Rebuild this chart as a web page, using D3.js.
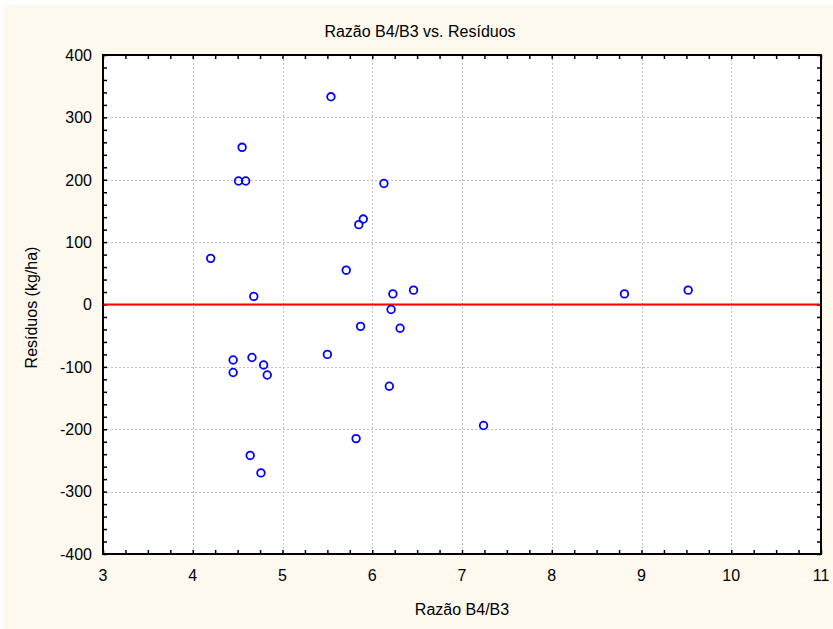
<!DOCTYPE html>
<html>
<head>
<meta charset="utf-8">
<script src="https://cdn.jsdelivr.net/npm/d3@7"></script>
<style>
  html, body { margin: 0; padding: 0; background: #ffffff; }
  svg { display: block; }
  text { font-family: "Liberation Sans", Arial, sans-serif; fill: #000; }
</style>
</head>
<body>
<svg id="chart" width="833" height="629"></svg>
<script>
// Ratio B4/B3 (x) and model residuals in kg/ha (y), one entry per observation
const ratioB4B3 = [5.54, 4.55, 4.51, 4.59, 4.20, 4.68, 4.45, 4.45, 4.66, 4.79, 4.83, 4.64, 4.76,
                   6.13, 5.90, 5.85, 5.71, 6.23, 6.46, 6.21, 5.87, 6.31, 5.50, 6.19, 5.82,
                   7.24, 8.81, 9.52];
const residuals = [333, 252, 198, 198, 74, 13, -89, -109, -85, -97, -113, -242, -270,
                   194, 137, 128, 55, 17, 23, -8, -35, -38, -80, -131, -215,
                   -194, 17, 23];

const xTicks = [3, 4, 5, 6, 7, 8, 9, 10, 11];
const yTicks = [-400, -300, -200, -100, 0, 100, 200, 300, 400];

const titleText = "Razão B4/B3 vs. Resíduos";
const xLabel = "Razão B4/B3";
const yLabel = "Resíduos (kg/ha)";

const svg = d3.select("#chart");
const W = 833, H = 629;
const plot = { left: 103, right: 821, top: 55, bottom: 554 };

// Cream page frame
svg.append("rect").attr("x", 4).attr("y", 5).attr("width", W - 4).attr("height", H - 5)
  .attr("fill", "#fdf9ee");

const x = d3.scaleLinear().domain([3, 11]).range([plot.left, plot.right]);
const y = d3.scaleLinear().domain([-400, 400]).range([plot.bottom, plot.top]);

// White plotting area
svg.append("rect").attr("x", plot.left).attr("y", plot.top)
  .attr("width", plot.right - plot.left).attr("height", plot.bottom - plot.top)
  .attr("fill", "#ffffff");

// Dotted grid at major ticks
const grid = svg.append("g").attr("stroke", "#c4c4c4").attr("stroke-width", 1)
  .attr("stroke-dasharray", "2,2").attr("shape-rendering", "crispEdges");
grid.selectAll("line.gx").data(xTicks.slice(1, -1)).join("line")
  .attr("x1", d => Math.round(x(d)) + 0.5).attr("x2", d => Math.round(x(d)) + 0.5)
  .attr("y1", plot.top).attr("y2", plot.bottom);
grid.selectAll("line.gy").data(yTicks.slice(1, -1)).join("line")
  .attr("y1", d => Math.round(y(d)) + 0.5).attr("y2", d => Math.round(y(d)) + 0.5)
  .attr("x1", plot.left).attr("x2", plot.right);

// Minor tick values (x every 0.25, y every 20)
const xMinor = d3.range(3, 11.001, 0.25);
const yMinor = d3.range(-400, 400.001, 20);
const tickLen = 4;

// Axes with inward ticks on all four sides
const axisStyle = g => {
  g.select(".domain").remove();
  g.selectAll(".tick line").attr("stroke", "#000").attr("stroke-width", 1.5);
  g.selectAll(".tick text").remove();
};
svg.append("g").attr("transform", `translate(0,${plot.bottom})`)
  .call(d3.axisBottom(x).tickValues(xMinor).tickSize(-tickLen)).call(axisStyle);
svg.append("g").attr("transform", `translate(0,${plot.top})`)
  .call(d3.axisTop(x).tickValues(xMinor).tickSize(-tickLen)).call(axisStyle);
svg.append("g").attr("transform", `translate(${plot.left},0)`)
  .call(d3.axisLeft(y).tickValues(yMinor).tickSize(-tickLen)).call(axisStyle);
svg.append("g").attr("transform", `translate(${plot.right},0)`)
  .call(d3.axisRight(y).tickValues(yMinor).tickSize(-tickLen)).call(axisStyle);

// Major tick labels
svg.append("g").selectAll("text").data(xTicks).join("text")
  .attr("x", d => x(d)).attr("y", 581).attr("text-anchor", "middle")
  .attr("font-size", 16).text(d => d);
svg.append("g").selectAll("text").data(yTicks).join("text")
  .attr("x", 92).attr("y", d => y(d)).attr("dy", "0.36em").attr("text-anchor", "end")
  .attr("font-size", 16).text(d => d);

// Zero reference line
svg.append("line").attr("x1", plot.left).attr("x2", plot.right)
  .attr("y1", y(0)).attr("y2", y(0)).attr("stroke", "#ff0000").attr("stroke-width", 2);

// Plot frame
svg.append("rect").attr("x", plot.left).attr("y", plot.top)
  .attr("width", plot.right - plot.left).attr("height", plot.bottom - plot.top)
  .attr("fill", "none").attr("stroke", "#000").attr("stroke-width", 2);

// Residual points
const pts = ratioB4B3.map((v, i) => ({ rx: v, res: residuals[i] }));
svg.append("g").selectAll("circle").data(pts).join("circle")
  .attr("cx", d => x(d.rx)).attr("cy", d => y(d.res)).attr("r", 3.8)
  .attr("fill", "none").attr("stroke", "#0000ff").attr("stroke-width", 1.8);

// Title and axis labels
svg.append("text").attr("x", 420).attr("y", 37).attr("text-anchor", "middle")
  .attr("font-size", 16).text(titleText);
svg.append("text").attr("x", (plot.left + plot.right) / 2).attr("y", 615)
  .attr("text-anchor", "middle").attr("font-size", 16).text(xLabel);
svg.append("text").attr("transform", `translate(37,${(plot.top + plot.bottom) / 2 + 3}) rotate(-90)`)
  .attr("text-anchor", "middle").attr("font-size", 16).text(yLabel);
</script>
</body>
</html>
